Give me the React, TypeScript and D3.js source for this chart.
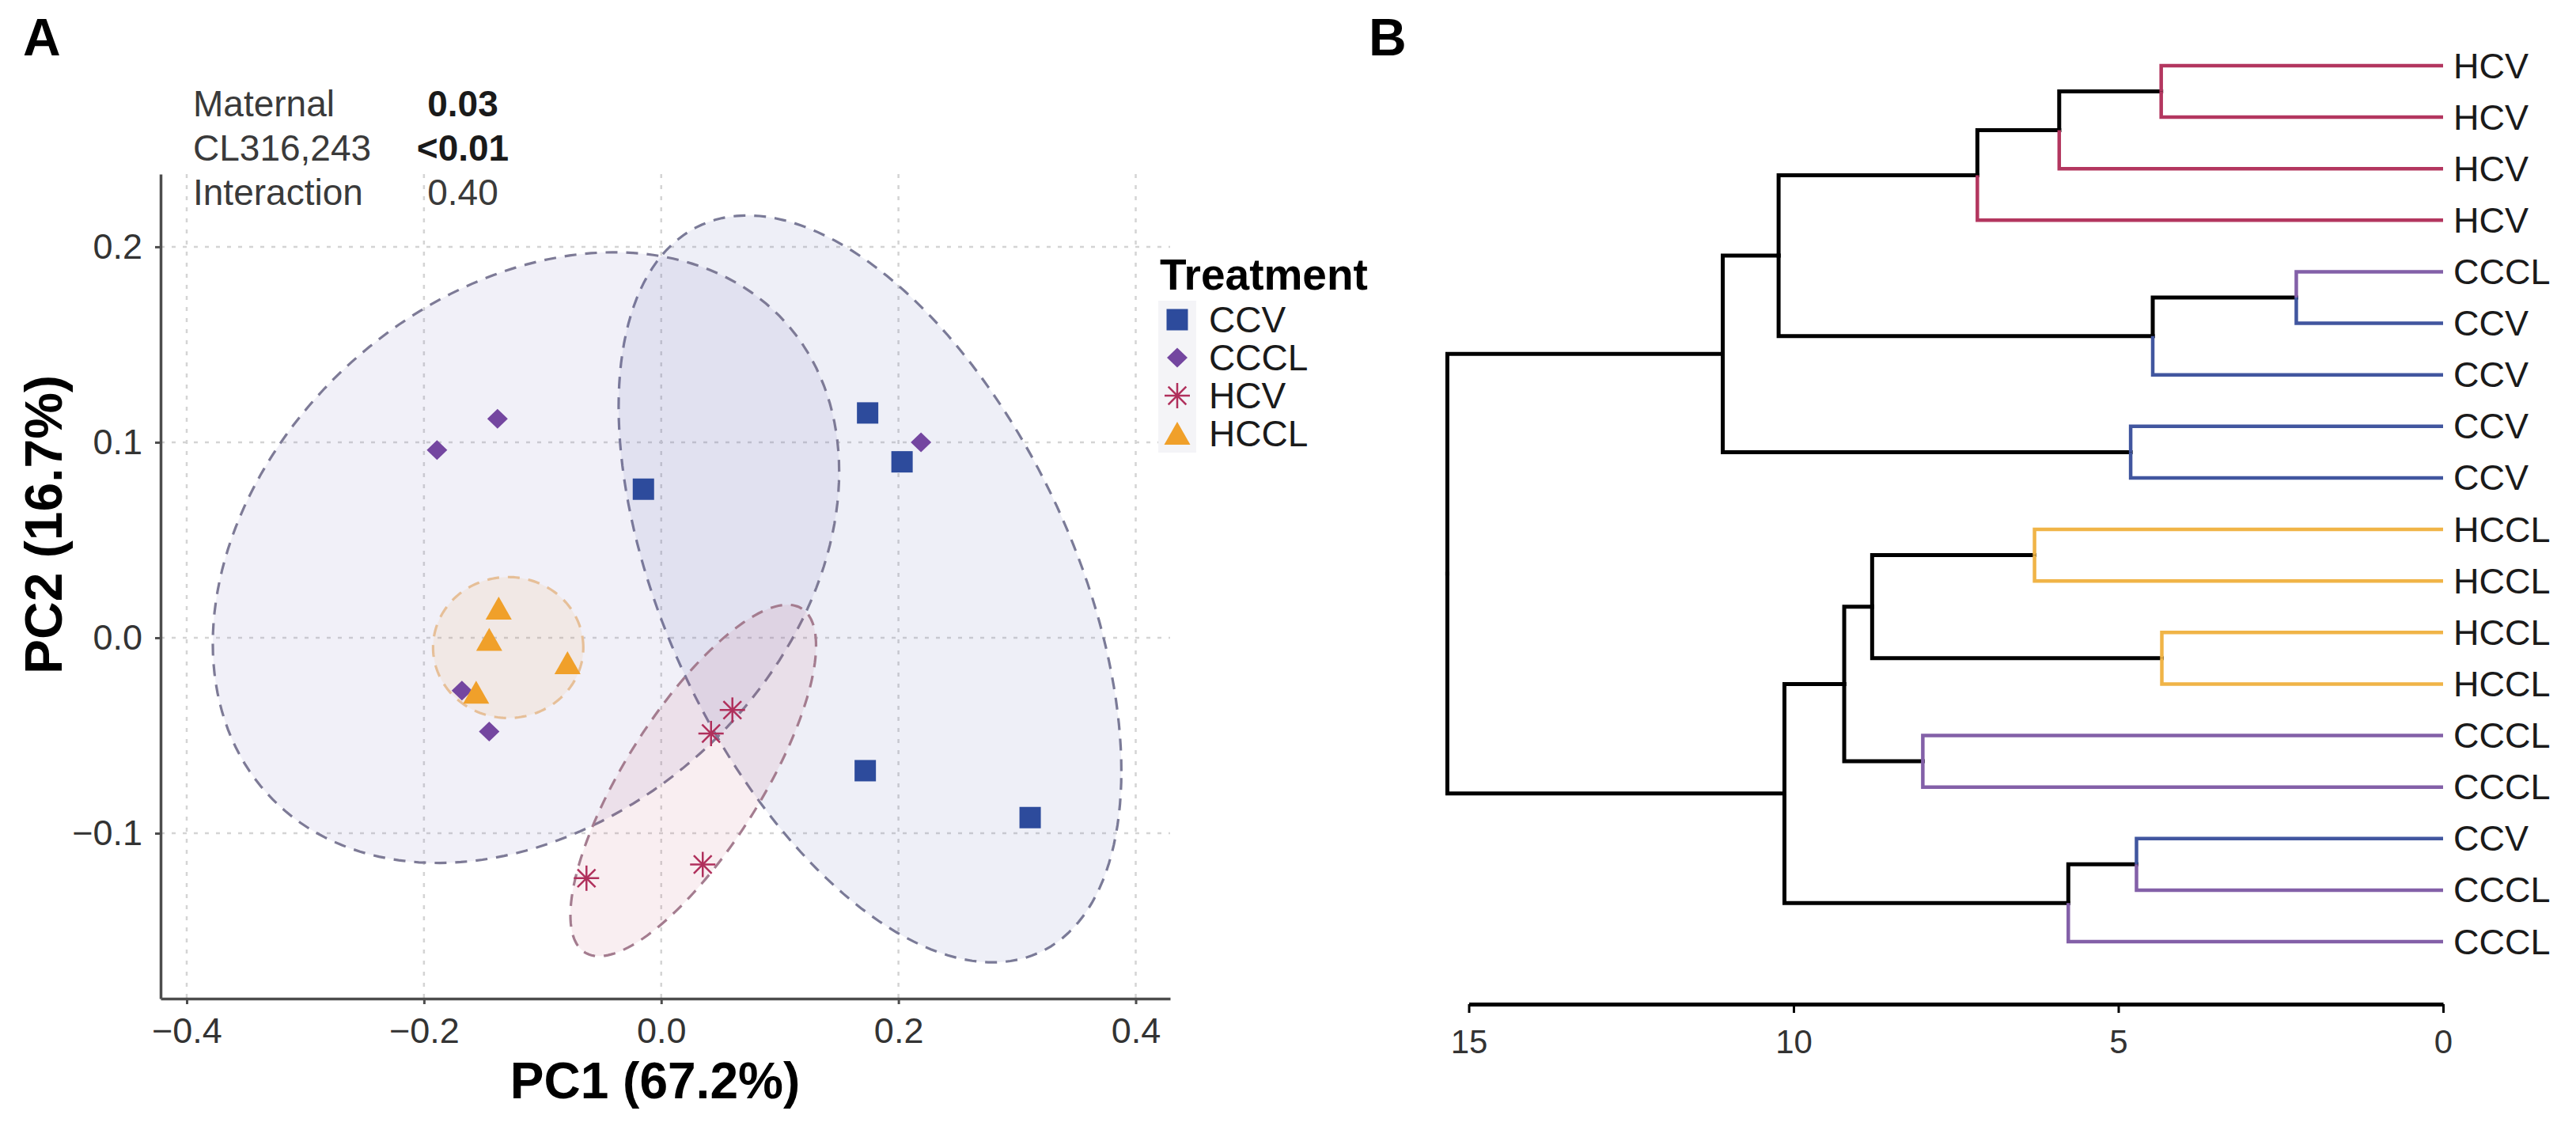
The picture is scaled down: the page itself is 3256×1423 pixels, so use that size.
import { useEffect, useRef } from 'react';
import * as d3 from 'd3';

const W = 3256;
const H = 1423;
const FONT = 'Liberation Sans, Arial, Helvetica, sans-serif';

// ---- Panel A: PCA scores per treatment ----
const groups = ['CCV', 'CCCL', 'HCV', 'HCCL'];
const pc1CCV = [-0.015, 0.174, 0.203, 0.172, 0.311];
const pc2CCV = [0.076, 0.115, 0.090, -0.068, -0.092];
const pc1CCCL = [-0.189, -0.138, 0.219, -0.168, -0.145];
const pc2CCCL = [0.096, 0.112, 0.100, -0.027, -0.048];
const pc1HCV = [0.060, 0.042, 0.035, -0.063];
const pc2HCV = [-0.037, -0.049, -0.116, -0.123];
const pc1HCCL = [-0.137, -0.145, -0.079, -0.156];
const pc2HCCL = [0.015, -0.001, -0.013, -0.028];

const pc1Ticks = [-0.4, -0.2, 0, 0.2, 0.4];
const pc2Ticks = [-0.1, 0, 0.1, 0.2];

// 95% ellipses (centre and covariance, in PC units), same order as groups
const ellipseCenterPC1 = [0.176, -0.114, 0.027, -0.129];
const ellipseCenterPC2 = [0.025, 0.041, -0.073, -0.005];
const ellipseVarPC1 = [0.0449, 0.0697, 0.01072, 0.00401];
const ellipseVarPC2 = [0.0365, 0.0244, 0.00808, 0.0013];
const ellipseCovar = [-0.01975, 0.0116, 0.00714, 0];

// PERMANOVA annotation
const statTerms = ['Maternal', 'CL316,243', 'Interaction'];
const statPValues = ['0.03', '<0.01', '0.40'];
const statBold = [true, true, false];

// ---- Panel B: hierarchical clustering ----
const leafLabels = ['HCV', 'HCV', 'HCV', 'HCV', 'CCCL', 'CCV', 'CCV', 'CCV', 'CCV',
  'HCCL', 'HCCL', 'HCCL', 'HCCL', 'CCCL', 'CCCL', 'CCV', 'CCCL', 'CCCL'];
// hclust-style merges: negative = leaf (1-based), positive = earlier merge (1-based)
const mergeA = [-5, -1, -12, 1, -16, -8, 5, 2, -10, 8, -14, 9, 12, 13, 10, 15, 16];
const mergeB = [-6, -2, -13, -7, -17, -9, -18, -3, -11, -4, -15, 3, 11, 7, 4, 6, 14];
const mergeHeight = [2.26, 4.34, 4.33, 4.47, 4.72, 4.81, 5.77, 5.91, 6.29, 7.17, 8.01, 8.79, 9.22, 10.14, 10.23, 11.09, 15.33];
const heightTicks = [15, 10, 5, 0];

const pointColor: Record<string, string> = {
  CCV: '#2d4b9c',
  CCCL: '#7446a0',
  HCV: '#b0305c',
  HCCL: '#f0a02a',
};
const ellipseFill: Record<string, string> = {
  CCV: '#5a60b2',
  CCCL: '#7770b8',
  HCV: '#c65a7a',
  HCCL: '#f5a640',
};
const ellipseStroke: Record<string, string> = {
  CCV: '#7a7a97',
  CCCL: '#7d7a96',
  HCV: '#a47c8f',
  HCCL: '#e6bf98',
};
const branchColor: Record<string, string> = {
  CCV: '#41569f',
  CCCL: '#8360a8',
  HCV: '#b3365f',
  HCCL: '#f0b447',
};

function drawSymbol(g: any, group: string, cx: number, cy: number) {
  const c = pointColor[group];
  if (group === 'CCV') {
    g.append('rect').attr('x', cx - 13.5).attr('y', cy - 13.5)
      .attr('width', 27).attr('height', 27).attr('fill', c);
  } else if (group === 'CCCL') {
    g.append('path')
      .attr('d', `M${cx},${cy - 12.5}L${cx + 13},${cy}L${cx},${cy + 12.5}L${cx - 13},${cy}Z`)
      .attr('fill', c);
  } else if (group === 'HCV') {
    const r = 16;
    [0, 45, 90, 135].forEach(a => {
      const t = (a * Math.PI) / 180;
      g.append('line')
        .attr('x1', cx - r * Math.cos(t)).attr('y1', cy - r * Math.sin(t))
        .attr('x2', cx + r * Math.cos(t)).attr('y2', cy + r * Math.sin(t))
        .attr('stroke', c).attr('stroke-width', 2.5);
    });
  } else {
    g.append('path')
      .attr('d', `M${cx},${cy - 15}L${cx + 16.5},${cy + 14}L${cx - 16.5},${cy + 14}Z`)
      .attr('fill', c);
  }
}

export default function App() {
  const svgRef = useRef<SVGSVGElement>(null);

  useEffect(() => {
    if (!svgRef.current) return;
    document.body.style.margin = '0';
    const svg = d3.select(svgRef.current);
    svg.selectAll('*').remove();

    const pc1ByGroup: Record<string, number[]> = { CCV: pc1CCV, CCCL: pc1CCCL, HCV: pc1HCV, HCCL: pc1HCCL };
    const pc2ByGroup: Record<string, number[]> = { CCV: pc2CCV, CCCL: pc2CCCL, HCV: pc2HCV, HCCL: pc2HCCL };

    // ============ Panel A ============
    const x = d3.scaleLinear().domain([-0.422, 0.429]).range([203, 1479]);
    const y = d3.scaleLinear().domain([-0.1846, 0.2372]).range([1262, 220]);
    const [xl, xr] = x.range();
    const [yb, yt] = y.range();

    const gA = svg.append('g');

    // grid
    pc1Ticks.forEach(v => {
      gA.append('line').attr('x1', x(v)).attr('x2', x(v)).attr('y1', yt).attr('y2', yb)
        .attr('stroke', '#d4d4d4').attr('stroke-width', 2.5).attr('stroke-dasharray', '5,9');
    });
    pc2Ticks.forEach(v => {
      gA.append('line').attr('x1', xl).attr('x2', xr).attr('y1', y(v)).attr('y2', y(v))
        .attr('stroke', '#d4d4d4').attr('stroke-width', 2.5).attr('stroke-dasharray', '5,9');
    });

    // ellipses
    const line = d3.line<[number, number]>().curve(d3.curveLinearClosed);
    groups.forEach((grp, i) => {
      const l11 = Math.sqrt(ellipseVarPC1[i]);
      const l21 = ellipseCovar[i] / l11;
      const l22 = Math.sqrt(ellipseVarPC2[i] - l21 * l21);
      const pts: [number, number][] = d3.range(0, 2 * Math.PI, Math.PI / 90).map(t => [
        x(ellipseCenterPC1[i] + l11 * Math.cos(t)),
        y(ellipseCenterPC2[i] + l21 * Math.cos(t) + l22 * Math.sin(t)),
      ]);
      gA.append('path')
        .attr('d', line(pts))
        .attr('fill', ellipseFill[grp])
        .attr('fill-opacity', 0.1)
        .attr('stroke', ellipseStroke[grp])
        .attr('stroke-width', 3.2)
        .attr('stroke-dasharray', '15,11');
    });

    // points
    groups.forEach(grp => {
      pc1ByGroup[grp].forEach((v, j) => drawSymbol(gA, grp, x(v), y(pc2ByGroup[grp][j])));
    });

    // axes
    const styleAxis = (ax: any) => {
      ax.attr('font-family', FONT).attr('font-size', 45);
      ax.select('.domain').attr('stroke', '#4d4d4d').attr('stroke-width', 3.5);
      ax.selectAll('.tick line').attr('stroke', '#4d4d4d').attr('stroke-width', 3);
      ax.selectAll('.tick text').attr('fill', '#333');
    };
    const fmt = d3.format('.1f');
    gA.append('g')
      .attr('transform', `translate(${xl},0)`)
      .call(d3.axisLeft(y).tickValues(pc2Ticks).tickFormat((d: any) => fmt(d)).tickSize(7).tickSizeOuter(0).tickPadding(16))
      .call(styleAxis);
    gA.append('g')
      .attr('transform', `translate(0,${yb})`)
      .call(d3.axisBottom(x).tickValues(pc1Ticks).tickFormat((d: any) => fmt(d)).tickSize(7).tickSizeOuter(0).tickPadding(17))
      .call(styleAxis);

    // axis titles
    gA.append('text')
      .attr('x', 828).attr('y', 1388)
      .attr('text-anchor', 'middle')
      .attr('font-family', FONT).attr('font-size', 64).attr('font-weight', 'bold')
      .attr('fill', '#000')
      .text('PC1 (67.2%)');
    gA.append('text')
      .attr('transform', 'translate(78,663) rotate(-90)')
      .attr('text-anchor', 'middle')
      .attr('font-family', FONT).attr('font-size', 66).attr('font-weight', 'bold')
      .attr('fill', '#000')
      .text('PC2 (16.7%)');

    // annotation
    statTerms.forEach((t, i) => {
      gA.append('text')
        .attr('x', 244).attr('y', 147 + i * 56)
        .attr('font-family', FONT).attr('font-size', 46).attr('fill', '#3a3a3a')
        .text(t);
      gA.append('text')
        .attr('x', 585).attr('y', 147 + i * 56)
        .attr('text-anchor', 'middle')
        .attr('font-family', FONT).attr('font-size', 46)
        .attr('font-weight', statBold[i] ? 'bold' : 'normal')
        .attr('fill', statBold[i] ? '#1a1a1a' : '#3a3a3a')
        .text(statPValues[i]);
    });

    // legend
    const lg = svg.append('g');
    lg.append('text')
      .attr('x', 1466).attr('y', 366)
      .attr('font-family', FONT).attr('font-size', 55).attr('font-weight', 'bold')
      .attr('fill', '#000')
      .text('Treatment');
    groups.forEach((grp, i) => {
      const cy = 404 + i * 48;
      lg.append('rect').attr('x', 1464).attr('y', cy - 24).attr('width', 48).attr('height', 48)
        .attr('fill', '#f4f4f7');
      drawSymbol(lg, grp, 1488, cy);
      lg.append('text')
        .attr('x', 1528).attr('y', cy)
        .attr('dominant-baseline', 'central')
        .attr('font-family', FONT).attr('font-size', 46).attr('fill', '#1a1a1a')
        .text(grp);
    });

    // ============ Panel B ============
    const gB = svg.append('g');
    const hx = d3.scaleLinear().domain([15, 0]).range([1856.5, 3088]);
    const leafY = d3.scaleLinear().domain([0, leafLabels.length - 1]).range([83, 1190]);

    const nodeY: number[] = [];
    const childPos = (c: number) =>
      c < 0
        ? { x: hx(0), y: leafY(-c - 1), leaf: -c - 1 }
        : { x: hx(mergeHeight[c - 1]), y: nodeY[c - 1], leaf: -1 };
    mergeA.forEach((a, i) => {
      nodeY[i] = (childPos(a).y + childPos(mergeB[i]).y) / 2;
    });

    const segs: { d: string; color: string; leaf: boolean }[] = [];
    mergeA.forEach((a, i) => {
      const nx = hx(mergeHeight[i]);
      const ny = nodeY[i];
      [a, mergeB[i]].forEach(c => {
        const p = childPos(c);
        segs.push({
          d: `M${nx},${ny}V${p.y}H${p.x}`,
          color: p.leaf >= 0 ? branchColor[leafLabels[p.leaf]] : '#000',
          leaf: p.leaf >= 0,
        });
      });
    });
    segs.filter(s => !s.leaf).forEach(s => {
      gB.append('path').attr('d', s.d).attr('fill', 'none')
        .attr('stroke', s.color).attr('stroke-width', 5).attr('stroke-linecap', 'square');
    });
    segs.filter(s => s.leaf).forEach(s => {
      gB.append('path').attr('d', s.d).attr('fill', 'none')
        .attr('stroke', s.color).attr('stroke-width', 4.5).attr('stroke-linejoin', 'miter');
    });

    leafLabels.forEach((lab, i) => {
      gB.append('text')
        .attr('x', 3101).attr('y', leafY(i))
        .attr('dominant-baseline', 'central')
        .attr('font-family', FONT).attr('font-size', 45).attr('fill', '#1a1a1a')
        .text(lab);
    });

    const axB = gB.append('g')
      .attr('transform', 'translate(0,1269)')
      .call(d3.axisBottom(hx).tickValues(heightTicks).tickFormat((d: any) => `${d}`).tickSize(11).tickSizeOuter(0).tickPadding(21));
    axB.attr('font-family', FONT).attr('font-size', 42);
    axB.select('.domain').attr('stroke', '#000').attr('stroke-width', 5);
    axB.selectAll('.tick line').attr('stroke', '#000').attr('stroke-width', 3);
    axB.selectAll('.tick text').attr('fill', '#333');

    // panel letters
    svg.append('text').attr('x', 29).attr('y', 70)
      .attr('font-family', FONT).attr('font-size', 66).attr('font-weight', 'bold').text('A');
    svg.append('text').attr('x', 1730).attr('y', 70)
      .attr('font-family', FONT).attr('font-size', 66).attr('font-weight', 'bold').text('B');
  }, []);

  return (
    <svg
      ref={svgRef}
      width={W}
      height={H}
      viewBox={`0 0 ${W} ${H}`}
      style={{ display: 'block', position: 'absolute', left: 0, top: 0, background: '#fff' }}
    />
  );
}
